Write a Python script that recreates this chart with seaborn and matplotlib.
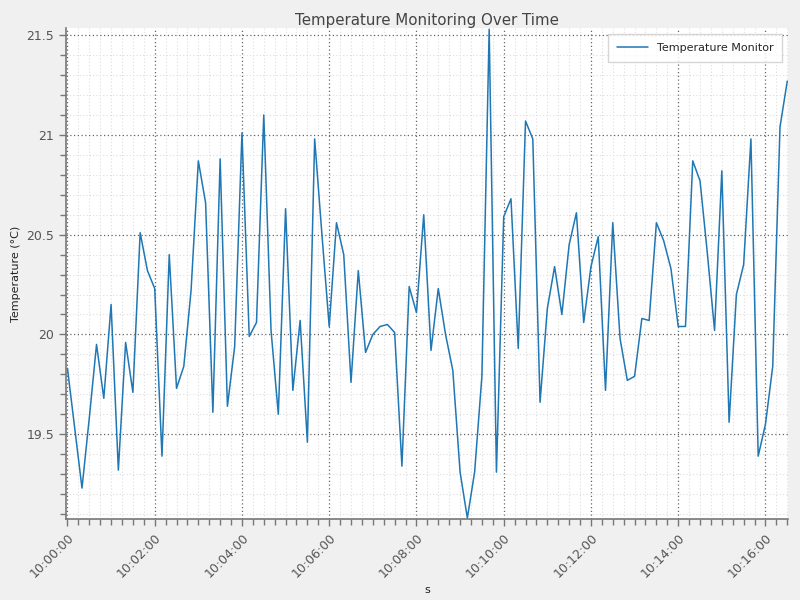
import pandas as pd
import matplotlib
matplotlib.use('Agg')
import matplotlib.pyplot as plt
import matplotlib.dates as mdates
from matplotlib.ticker import MultipleLocator
import seaborn as sns

# temperature readings, one every 10 seconds starting at 10:00:00
start_time = '2024-01-01 10:00:00'
sample_step_s = 10
temperature = [
    19.83, 19.53, 19.23, 19.58, 19.95, 19.68, 20.15, 19.32, 19.96, 19.71,
    20.51, 20.32, 20.23, 19.39, 20.40, 19.73, 19.84, 20.22, 20.87, 20.66,
    19.61, 20.88, 19.64, 19.94, 21.01, 19.99, 20.06, 21.10, 20.02, 19.60,
    20.63, 19.72, 20.07, 19.46, 20.98, 20.50, 20.04, 20.56, 20.40, 19.76,
    20.32, 19.91, 20.00, 20.04, 20.05, 20.01, 19.34, 20.24, 20.11, 20.60,
    19.92, 20.23, 20.00, 19.82, 19.31, 19.08, 19.31, 19.79, 21.53, 19.31,
    20.59, 20.68, 19.93, 21.07, 20.98, 19.66, 20.13, 20.34, 20.10, 20.45,
    20.61, 20.06, 20.34, 20.49, 19.72, 20.56, 19.98, 19.77, 19.79, 20.08,
    20.07, 20.56, 20.47, 20.33, 20.04, 20.04, 20.87, 20.77, 20.41, 20.02,
    20.82, 19.56, 20.20, 20.35, 20.98, 19.39, 19.55, 19.84, 21.04, 21.27,
]
series_name = 'Temperature Monitor'

times = pd.date_range(start_time, periods=len(temperature), freq=f'{sample_step_s}s')
df = pd.DataFrame({'time': times, 'temp': temperature, 'series': series_name})

sns.set_theme(style='white')
plt.rcParams['font.family'] = ['DejaVu Sans']

fig = plt.figure(figsize=(8, 6), dpi=100, facecolor='#f0f0f0')
ax = fig.add_axes([0.0825, 0.135, 0.9025, 0.818])
ax.set_facecolor('white')

sns.lineplot(data=df, x='time', y='temp', hue='series', palette=['#1f77b4'],
             linewidth=1.1, ax=ax)

# tight limits like the original
ax.set_xlim(times[0] - pd.Timedelta(seconds=2), times[-1] + pd.Timedelta(seconds=1))
ax.set_ylim(min(temperature) - 0.005, max(temperature) + 0.005)

# ticks
ax.xaxis.set_major_locator(mdates.MinuteLocator(byminute=range(0, 60, 2)))
ax.xaxis.set_minor_locator(mdates.SecondLocator(bysecond=[0, 15, 30, 45]))
ax.xaxis.set_major_formatter(mdates.DateFormatter('%H:%M:%S'))
ax.yaxis.set_major_locator(MultipleLocator(0.5))
ax.yaxis.set_minor_locator(MultipleLocator(0.1))
ax.yaxis.set_major_formatter(lambda v, p: f'{v:g}')

ax.tick_params(axis='both', which='major', direction='out', length=5, width=1,
               color='#777777', labelcolor='#555555', labelsize=9, left=True, bottom=True)
ax.tick_params(axis='both', which='minor', direction='out', length=4, width=1,
               color='#777777', left=True, bottom=True)
plt.setp(ax.get_xticklabels(), rotation=45, ha='right', rotation_mode='anchor')

# grids
ax.grid(which='major', linestyle=(0, (1, 2)), color='#666666', linewidth=0.9)
ax.grid(which='minor', linestyle=(0, (1, 2)), color='#dddddd', linewidth=0.8)
ax.set_axisbelow(True)

for side in ['top', 'right']:
    ax.spines[side].set_visible(False)
for side in ['left', 'bottom']:
    ax.spines[side].set_color('#777777')
    ax.spines[side].set_linewidth(1.2)

ax.set_title('Temperature Monitoring Over Time', fontsize=10.8, color='#444444', pad=2)
ax.set_xlabel('s', fontsize=8, color='#222222')
ax.set_ylabel('Temperature (°C)', fontsize=8, color='#222222')

leg = ax.legend(loc='upper right', fontsize=8, frameon=True, fancybox=False,
                borderpad=0.8, handlelength=2.8, bbox_to_anchor=(0.9995, 1.0))
leg.get_frame().set_edgecolor('#cccccc')
leg.get_frame().set_linewidth(1)

plt.savefig('out.png', dpi=100, facecolor=fig.get_facecolor())
